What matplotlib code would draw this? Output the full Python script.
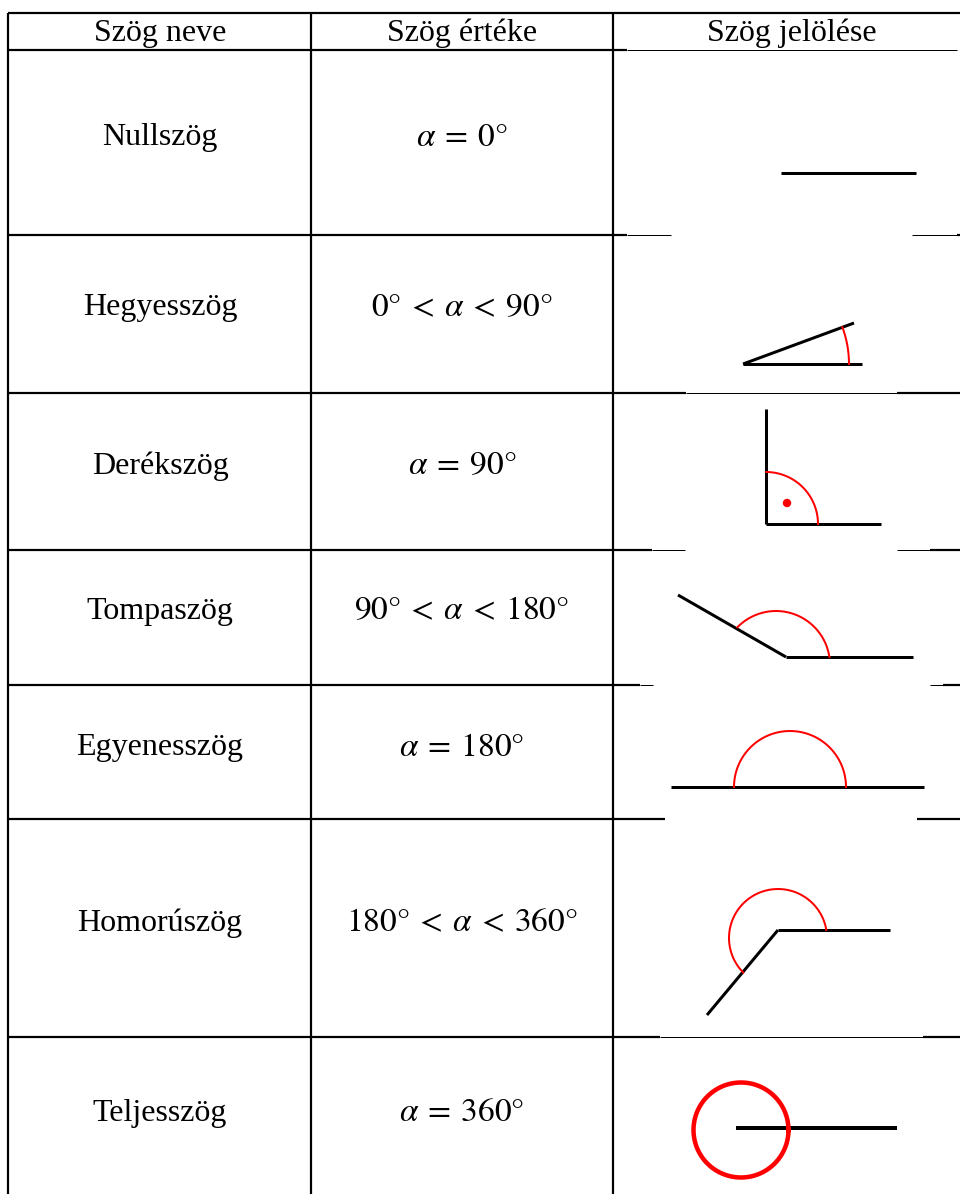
import numpy as np
import matplotlib
matplotlib.use("Agg")
import matplotlib.pyplot as plt
from matplotlib.patches import Circle

plt.rcParams["font.family"] = ["Liberation Serif", "DejaVu Serif"]
plt.rcParams["mathtext.fontset"] = "stix"

W, H = 960, 1194
FONT_SIZE = 23
MATH_SIZE = 24

# table content
headers = ["Szög neve", "Szög értéke", "Szög jelölése"]
names = ["Nullszög", "Hegyesszög", "Derékszög", "Tompaszög",
         "Egyenesszög", "Homorúszög", "Teljesszög"]
values = [r"$\alpha\:=\:0°$", r"$0°\:<\:\alpha\:<\:90°$", r"$\alpha\:=\:90°$",
          r"$90°\:<\:\alpha\:<\:180°$", r"$\alpha\:=\:180°$",
          r"$180°\:<\:\alpha\:<\:360°$", r"$\alpha\:=\:360°$"]

# layout in pixels
col_x = [8, 311, 613]
col_centers = [160, 462, 792]
row_y = [13, 50, 235, 393, 550, 685, 819, 1037]
text_y = [138, 308, 466, 611, 748, 923, 1113]

# horizontal lines across the third column: (x0, x1, width)
col3_segments = {
    13: [(613, 960, 2.2)],
    50: [(613, 627, 2.2), (627, 957, 1.0)],
    235: [(613, 627, 2.2), (627, 671, 1.0), (912, 957, 1.0), (957, 960, 2.2)],
    393: [(613, 686, 2.2), (686, 897, 1.0), (897, 960, 2.2)],
    550: [(613, 652, 2.2), (652, 685, 1.0), (897, 930, 1.0), (930, 960, 2.2)],
    685: [(613, 640, 2.2), (640, 653, 1.0), (930, 943, 1.0), (943, 960, 2.2)],
    819: [(613, 665, 2.2), (917, 960, 2.2)],
    1037: [(613, 660, 2.2), (660, 923, 1.0), (923, 960, 2.2)],
}

fig = plt.figure(figsize=(W / 100, H / 100), dpi=100)
ax = fig.add_axes([0, 0, 1, 1])
ax.set_xlim(0, W)
ax.set_ylim(H, 0)
ax.axis("off")

PX = 72 / 100  # points per pixel

# grid
for y in row_y:
    ax.plot([col_x[0], col_x[2]], [y, y], color="black", lw=2.2 * PX,
            solid_capstyle="butt")
    for x0, x1, w in col3_segments[y]:
        ax.plot([x0, x1], [y, y], color="black", lw=w * PX,
                solid_capstyle="butt")
for x in col_x:
    ax.plot([x, x], [row_y[0], H], color="black", lw=2.2 * PX,
            solid_capstyle="butt")

# texts
for cx, h in zip(col_centers, headers):
    ax.text(cx, 33, h, ha="center", va="center", fontsize=FONT_SIZE)
for y, n, v in zip(text_y, names, values):
    ax.text(col_centers[0], y, n, ha="center", va="center", fontsize=FONT_SIZE)
    ax.text(col_centers[1], y, v, ha="center", va="center",
            fontsize=MATH_SIZE)

BLACK_LW = 3 * PX
RED_LW = 2 * PX


def seg(p, q, lw=BLACK_LW):
    ax.plot([p[0], q[0]], [p[1], q[1]], color="black", lw=lw,
            solid_capstyle="butt")


def arc(c, r, a0, a1, lw=RED_LW):
    # angles in degrees, counter-clockwise on screen (y axis is inverted)
    t = np.radians(np.linspace(a0, a1, 200))
    ax.plot(c[0] + r * np.cos(t), c[1] - r * np.sin(t), color="red", lw=lw)


# Nullszög
seg((781, 173), (916, 173))

# Hegyesszög
seg((743, 364), (862, 364))
seg((743, 364), (854, 323))
arc((743, 364), 106, 0, 20.3)

# Derékszög
seg((766, 409), (766, 524))
seg((766, 524), (881, 524))
arc((766, 524), 52, 0, 90)
ax.add_patch(Circle((787, 503), 3.5, color="red"))

# Tompaszög
seg((786, 657), (913, 657))
seg((786, 657), (678, 595))
arc((776, 665), 54, 8.5, 135.7)

# Egyenesszög
seg((671, 787), (924, 787))
arc((790, 787), 56, 0, 180)

# Homorúszög
seg((778, 930), (890, 930))
seg((778, 930), (707, 1015))
arc((778, 938), 49, 9.4, 225)

# Teljesszög
seg((736, 1128), (897, 1128), lw=4 * PX)
arc((741, 1130), 47.5, 0, 360, lw=4.5 * PX)

fig.savefig("out.png", dpi=100)
